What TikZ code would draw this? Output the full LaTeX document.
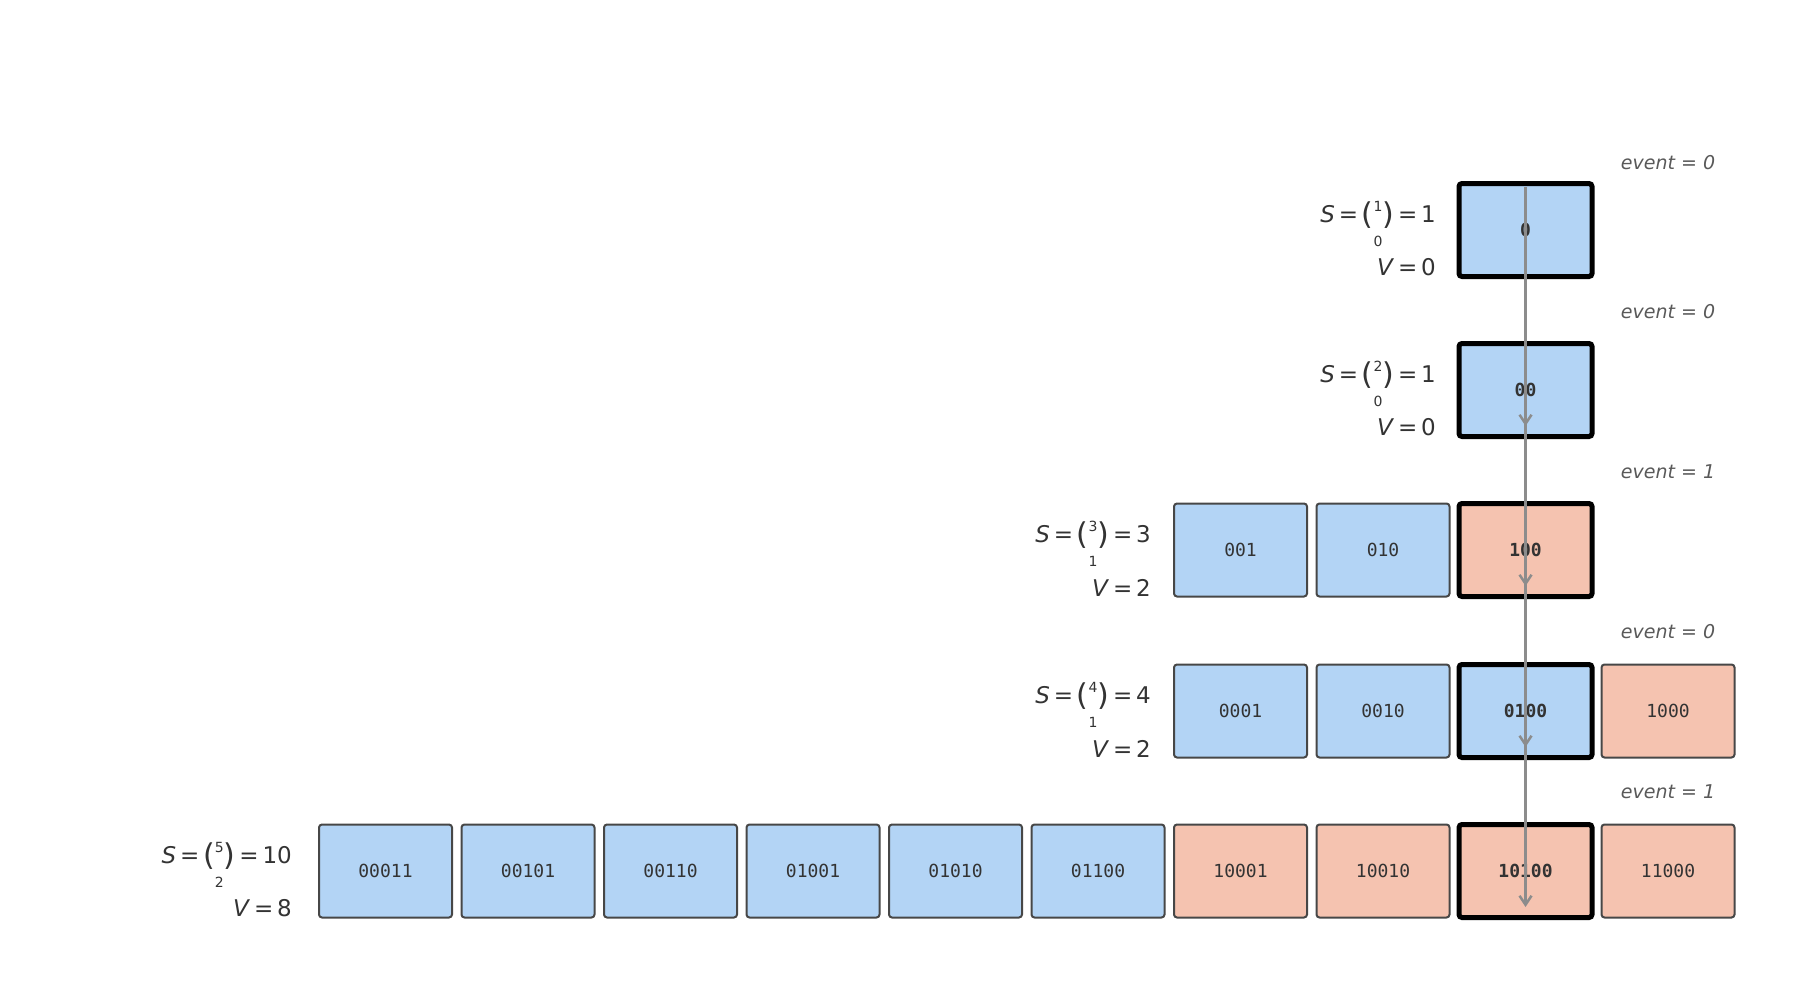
\documentclass[tikz,border=0pt]{standalone}
\usepackage{fontspec}
\setmainfont{DejaVu Sans}
\setmonofont{DejaVu Sans Mono}
\usetikzlibrary{arrows.meta}
\definecolor{bl}{HTML}{B3D4F5}
\definecolor{sa}{HTML}{F5C3B0}
\definecolor{tx}{HTML}{333333}
\tikzset{x=1pt,y=-1pt,
 cell/.style={draw=black!72,line width=2pt,rounded corners=3pt,minimum width=133pt,minimum height=93pt,inner sep=0pt,font=\fontsize{18}{18}\selectfont\ttfamily,text=tx},
 hl/.style={draw=black,line width=5pt,font=\fontsize{18}{18}\selectfont\ttfamily\bfseries},
 lab/.style={anchor=east,align=right,font=\fontsize{23}{39}\selectfont,text=tx,inner sep=0pt},
 ev/.style={font=\fontsize{19}{19}\selectfont\itshape,text=black!65},
 arr/.style={draw=black!45,line width=2.5pt,-{Straight Barb[length=9pt,width=12pt]}}}
\newcommand{\bn}[2]{\raisebox{-2pt}{\fontsize{30}{30}\selectfont(}\raisebox{-5pt}{\begin{tabular}{@{}c@{}}\fontsize{14}{14}\selectfont #1\\[-4pt]\fontsize{14}{14}\selectfont #2\end{tabular}}\raisebox{-2pt}{\fontsize{30}{30}\selectfont)}}
\newcommand{\lbl}[4]{\textit{S}\,=\,\bn{#1}{#2}\,=\,#3\\\textit{V}\,=\,#4}
\begin{document}
\begin{tikzpicture}
\useasboundingbox (0,0) rectangle (1814,990);
\def\cx#1{385.5+142.5*#1}
% row 1
\node[cell,hl,fill=bl] (r1c8) at ({\cx{8}},230) {0};
\node[lab] (l1) at (1436,230) {\lbl{1}{0}{1}{0}};
\node[ev] (e1) at (1668,163) {event = 0};
% row 2
\node[cell,hl,fill=bl] (r2c8) at ({\cx{8}},390) {00};
\node[lab] (l2) at (1436,390) {\lbl{2}{0}{1}{0}};
\node[ev] (e2) at (1668,312) {event = 0};
% row 3
\node[cell,fill=bl] (r3c6) at ({\cx{6}},550) {001};
\node[cell,fill=bl] (r3c7) at ({\cx{7}},550) {010};
\node[cell,hl,fill=sa] (r3c8) at ({\cx{8}},550) {100};
\node[lab] (l3) at (1151,550) {\lbl{3}{1}{3}{2}};
\node[ev] (e3) at (1668,472) {event = 1};
% row 4
\node[cell,fill=bl] (r4c6) at ({\cx{6}},711) {0001};
\node[cell,fill=bl] (r4c7) at ({\cx{7}},711) {0010};
\node[cell,hl,fill=bl] (r4c8) at ({\cx{8}},711) {0100};
\node[cell,fill=sa] (r4c9) at ({\cx{9}},711) {1000};
\node[lab] (l4) at (1151,711) {\lbl{4}{1}{4}{2}};
\node[ev] (e4) at (1668,632) {event = 0};
% row 5
\foreach \t [count=\i from 0] in {00011,00101,00110,01001,01010,01100}
  \node[cell,fill=bl] (r5c\i) at ({\cx{\i}},871) {\t};
\node[cell,fill=sa] (r5c6) at ({\cx{6}},871) {10001};
\node[cell,fill=sa] (r5c7) at ({\cx{7}},871) {10010};
\node[cell,hl,fill=sa] (r5c8) at ({\cx{8}},871) {10100};
\node[cell,fill=sa] (r5c9) at ({\cx{9}},871) {11000};
\node[lab] (l5) at (292,871) {\lbl{5}{2}{10}{8}};
\node[ev] (e5) at (1668,792) {event = 1};
% arrows
\foreach \a/\b in {1/2,2/3,3/4,4/5}
  \draw[arr] ([yshift=-6pt]r\a c8.north) -- ([yshift=13pt]r\b c8.south);
\end{tikzpicture}
\end{document}
